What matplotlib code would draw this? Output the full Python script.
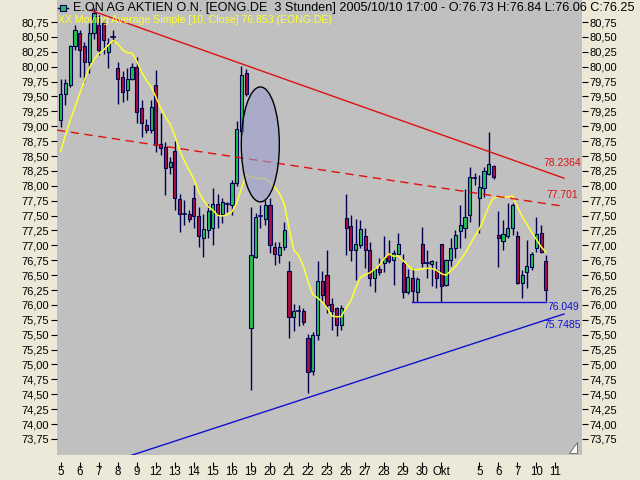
import numpy as np
import matplotlib
matplotlib.use('Agg')
import matplotlib.pyplot as plt
from matplotlib.patches import Ellipse, Rectangle, Polygon
from matplotlib.lines import Line2D
from matplotlib.ticker import FuncFormatter

# 3-hour candles EONG.DE, 2005/09/05 .. 2005/10/10 17:00
opens = [79.10, 79.55, 79.69, 80.34, 80.56, 80.34, 80.08, 80.56, 80.70, 80.73,
         80.25, 80.50, 79.97, 79.83, 79.61, 79.80, 80.00, 79.30, 79.02, 78.94,
         79.69, 78.70, 78.66, 78.32, 78.58, 77.78, 77.53, 77.53, 77.80, 77.49,
         77.13, 77.26, 77.29, 77.70, 77.52, 77.70, 77.68, 78.05, 78.92, 79.89,
         75.62, 76.81, 77.49, 77.44, 77.67, 76.97, 76.84, 76.97, 76.57, 75.79,
         75.90, 75.90, 75.44, 74.89, 75.49, 76.41, 76.50, 76.01, 75.94, 75.66,
         77.46, 77.32, 76.92, 77.01, 77.15, 76.92, 76.45, 76.60, 76.70, 76.85,
         76.75, 76.85, 76.70, 76.22, 76.46, 76.22, 77.02, 76.70, 76.68, 76.59,
         77.02, 76.33, 76.75, 76.95, 77.24, 77.30, 77.51, 78.13, 77.80, 77.97,
         78.19, 78.33, 77.17, 77.08, 77.15, 77.29, 77.16, 76.36, 76.56, 76.64,
         76.96, 77.20, 76.73]
highs = [79.79, 79.80, 80.36, 80.70, 80.62, 80.42, 80.73, 80.98, 80.87, 80.78,
         80.48, 80.62, 80.08, 79.92, 79.97, 80.06, 80.17, 79.44, 79.13, 79.44,
         79.94, 79.22, 78.74, 78.49, 78.75, 77.87, 77.76, 77.59, 78.01, 77.65,
         77.52, 77.70, 77.96, 77.87, 77.80, 77.73, 78.10, 79.09, 80.01, 79.96,
         77.65, 77.54, 77.68, 77.76, 77.79, 77.06, 77.06, 77.40, 76.74, 76.01,
         76.00, 75.95, 75.52, 75.55, 76.73, 76.57, 76.92, 76.11, 75.97, 76.00,
         77.87, 77.51, 77.45, 77.43, 77.29, 77.06, 76.64, 76.78, 77.16, 77.09,
         76.92, 77.20, 76.85, 76.61, 76.62, 76.47, 77.31, 76.92, 76.75, 76.73,
         77.02, 76.77, 77.13, 77.26, 77.68, 77.95, 78.32, 78.21, 78.18, 78.32,
         78.91, 78.35, 77.57, 77.43, 77.71, 77.71, 77.24, 76.59, 77.09, 76.89,
         77.47, 77.35, 76.84]
lows = [78.99, 79.36, 79.66, 80.28, 79.83, 79.75, 79.89, 80.47, 80.20, 80.22,
        79.97, 80.42, 79.38, 79.41, 79.44, 79.78, 79.05, 78.82, 78.88, 78.88,
        78.57, 78.52, 77.85, 78.19, 77.60, 77.23, 77.35, 77.40, 77.29, 76.98,
        76.81, 77.13, 77.00, 77.29, 77.37, 77.56, 77.51, 77.99, 78.85, 79.50,
        74.57, 76.78, 77.29, 77.35, 76.87, 76.67, 76.70, 76.92, 75.45, 75.56,
        75.64, 75.66, 74.52, 74.82, 75.41, 76.05, 75.86, 75.58, 75.47, 75.58,
        76.84, 76.73, 76.42, 76.95, 76.62, 76.31, 76.21, 76.50, 76.56, 76.70,
        76.33, 76.84, 76.11, 76.19, 76.05, 76.05, 76.64, 76.45, 76.31, 76.28,
        76.05, 76.31, 76.66, 76.78, 76.95, 77.13, 77.40, 78.01, 77.20, 77.82,
        78.18, 78.11, 76.64, 76.92, 77.13, 77.17, 76.35, 76.11, 76.29, 76.59,
        76.89, 76.88, 76.06]
closes = [79.55, 79.73, 80.34, 80.62, 80.28, 80.08, 80.56, 80.90, 80.28, 80.45,
          80.39, 80.50, 79.80, 79.58, 79.80, 80.00, 79.24, 79.05, 78.94, 79.33,
          78.69, 78.64, 78.30, 78.40, 77.80, 77.52, 77.53, 77.45, 77.50, 77.16,
          77.27, 77.57, 77.70, 77.53, 77.72, 77.70, 78.05, 78.96, 79.86, 79.54,
          76.83, 77.48, 77.49, 77.68, 77.01, 76.85, 76.97, 77.26, 75.80, 75.90,
          75.90, 75.71, 74.88, 75.49, 76.41, 76.17, 76.00, 75.89, 75.66, 75.95,
          77.30, 76.92, 77.03, 77.27, 76.92, 76.45, 76.60, 76.56, 76.78, 76.74,
          76.88, 77.02, 76.22, 76.47, 76.23, 76.43, 76.70, 76.70, 76.73, 76.45,
          76.31, 76.75, 76.95, 77.18, 77.34, 77.48, 78.15, 78.13, 77.98, 78.25,
          78.36, 78.15, 77.13, 77.19, 77.29, 77.68, 76.36, 76.51, 76.66, 76.85,
          77.19, 76.89, 76.25]

# SMA(10) for the first bars depends on earlier data ->
ma_head = [78.58, 78.85, 79.10, 79.32, 79.55, 79.78, 79.98, 80.12, 80.22]

day_labels = ['5', '6', '7', '8', '9', '12', '13', '14', '15', '16', '19', '20',
              '21', '22', '23', '26', '27', '28', '29', '30', 'Okt', '', '5', '6',
              '7', '10', '11']

# trend lines: (first bar, value at first bar), value at last bar
resist_start = (6.2, 80.95)
resist_last = 78.2364
mid_start = (-0.8, 78.935)
mid_last = 77.701
support_start = (12.0, 73.40)
support_last = 75.7485
floor_start = 73.8
floor_value = 76.049

bg = '#ece9d8'
panel = '#c0c0c0'
up_col = '#22c050'
down_col = '#a8103c'
wick_col = '#000050'
font = 'Liberation Sans'

n = len(closes)
idx = np.arange(n)
last = n - 1

fig = plt.figure(figsize=(6.4, 4.8), dpi=100, facecolor=bg)
ax = fig.add_axes([57 / 640, 25 / 480, 525 / 640, 455 / 480])
ax.set_facecolor(panel)

# candles
body_w = 0.66
for i in range(n):
    o, h, l, c = opens[i], highs[i], lows[i], closes[i]
    ax.plot([i, i], [l, h], color=wick_col, lw=1, zorder=2, solid_capstyle='butt')
    if c > o:
        ax.add_patch(Rectangle((i - body_w / 2, o), body_w, c - o, facecolor=up_col,
                               edgecolor=wick_col, lw=0.8, zorder=3))
    elif c < o:
        ax.add_patch(Rectangle((i - body_w / 2, c), body_w, o - c, facecolor=down_col,
                               edgecolor=wick_col, lw=0.8, zorder=3))
    else:
        ax.plot([i - body_w / 2, i + body_w / 2], [o, o], color=wick_col, lw=1.2, zorder=3)

# moving average
cl = np.array(closes)
ma_tail = np.convolve(cl, np.ones(10) / 10, mode='valid')
ma = np.concatenate([ma_head, ma_tail])
ax.plot(idx, ma, color='#ffff30', lw=1.1, zorder=4)

# trend lines
def line_pts(start, last_val, x_end):
    x0, y0 = start
    slope = (last_val - y0) / (last - x0)
    return [x0, x_end], [y0, y0 + slope * (x_end - x0)]

xs, ys = line_pts(resist_start, resist_last, 105.8)
ax.plot(xs, ys, color='#e01010', lw=1, zorder=5)
xs, ys = line_pts(mid_start, mid_last, 105.5)
ax.plot(xs, ys, color='#e01010', lw=1, ls=(0, (6, 4)), zorder=5)
xs, ys = line_pts(support_start, support_last, 105.8)
ax.plot(xs, ys, color='#1010d0', lw=1, zorder=5)
ax.plot([floor_start, last], [floor_value, floor_value], color='#1010d0', lw=1, zorder=5)

ax.text(101.4, resist_last + 0.15, '78.2364', color='#e01010', fontsize=7.5,
        family=font, va='center', ha='left', zorder=6)
ax.text(102.1, mid_last + 0.145, '77.701', color='#e01010', fontsize=7.5,
        family=font, va='center', ha='left', zorder=6)
ax.text(102.3, floor_value - 0.085, '76.049', color='#1010d0', fontsize=7.5,
        family=font, va='center', ha='left', zorder=6)
ax.text(101.4, support_last - 0.085, '75.7485', color='#1010d0', fontsize=7.5,
        family=font, va='center', ha='left', zorder=6)

# marked zone
ax.add_patch(Ellipse((41.97, 78.695), 8.0, 1.93, facecolor='#9c9cd0', alpha=0.6,
                     edgecolor='none', zorder=6))
ax.add_patch(Ellipse((41.97, 78.695), 8.0, 1.93, facecolor='none',
                     edgecolor='black', lw=1, zorder=7))

ax.set_xlim(-0.78, 109.6)
ax.set_ylim(73.48, 81.12)

yt = np.arange(73.75, 80.76, 0.25)
ax.set_yticks(yt)
ax.yaxis.set_major_formatter(FuncFormatter(lambda v, p: '{:.2f}'.format(v).replace('.', ',')))
ax.tick_params(axis='y', left=True, right=True, labelleft=True, labelright=True,
               length=4, pad=1.5, labelsize=8, colors='black')
for lab in ax.get_yticklabels():
    lab.set_family(font)

# day ticks below the panel
ticks = [4 * k for k in range(len(day_labels))]
ax.set_xticks(ticks)
ax.set_xticklabels(day_labels, family=font, fontsize=8.3)
ax.tick_params(axis='x', length=0, pad=8)
tick_x = [t for t, lab in zip(ticks, day_labels) if lab]
ax.vlines(tick_x, -0.028, -0.015, transform=ax.get_xaxis_transform(),
          color='black', lw=0.8, clip_on=False)

for s in ax.spines.values():
    s.set_visible(False)

# little corner mark
ax.add_patch(Polygon([[0.976, 0.005], [0.99, 0.005], [0.99, 0.028]], closed=True,
                     transform=ax.transAxes, facecolor='white', edgecolor='#606060',
                     lw=0.6, zorder=8))

# header lines
fig.add_artist(Line2D([58 / 640, 68 / 640], [1 - 8 / 480, 1 - 8 / 480], color=wick_col, lw=1))
fig.add_artist(Line2D([63 / 640], [1 - 8 / 480], marker='s', markersize=5,
                      markerfacecolor=up_col, markeredgecolor=wick_col, markeredgewidth=0.8))
fig.text(73 / 640, 1 - 8 / 480,
         'E.ON AG AKTIEN O.N. [EONG.DE  3 Stunden] 2005/10/10 17:00 - O:76.73 H:76.84 L:76.06 C:76.25',
         family=font, fontsize=9.1, color='black', va='center', ha='left')
fig.text(58 / 640, 1 - 20 / 480, 'XX Moving Average Simple [10, Close] 76.853 (EONG.DE)',
         family=font, fontsize=7.6, color='#ffff30', va='center', ha='left')

fig.savefig('out.png', dpi=100, facecolor=bg)
